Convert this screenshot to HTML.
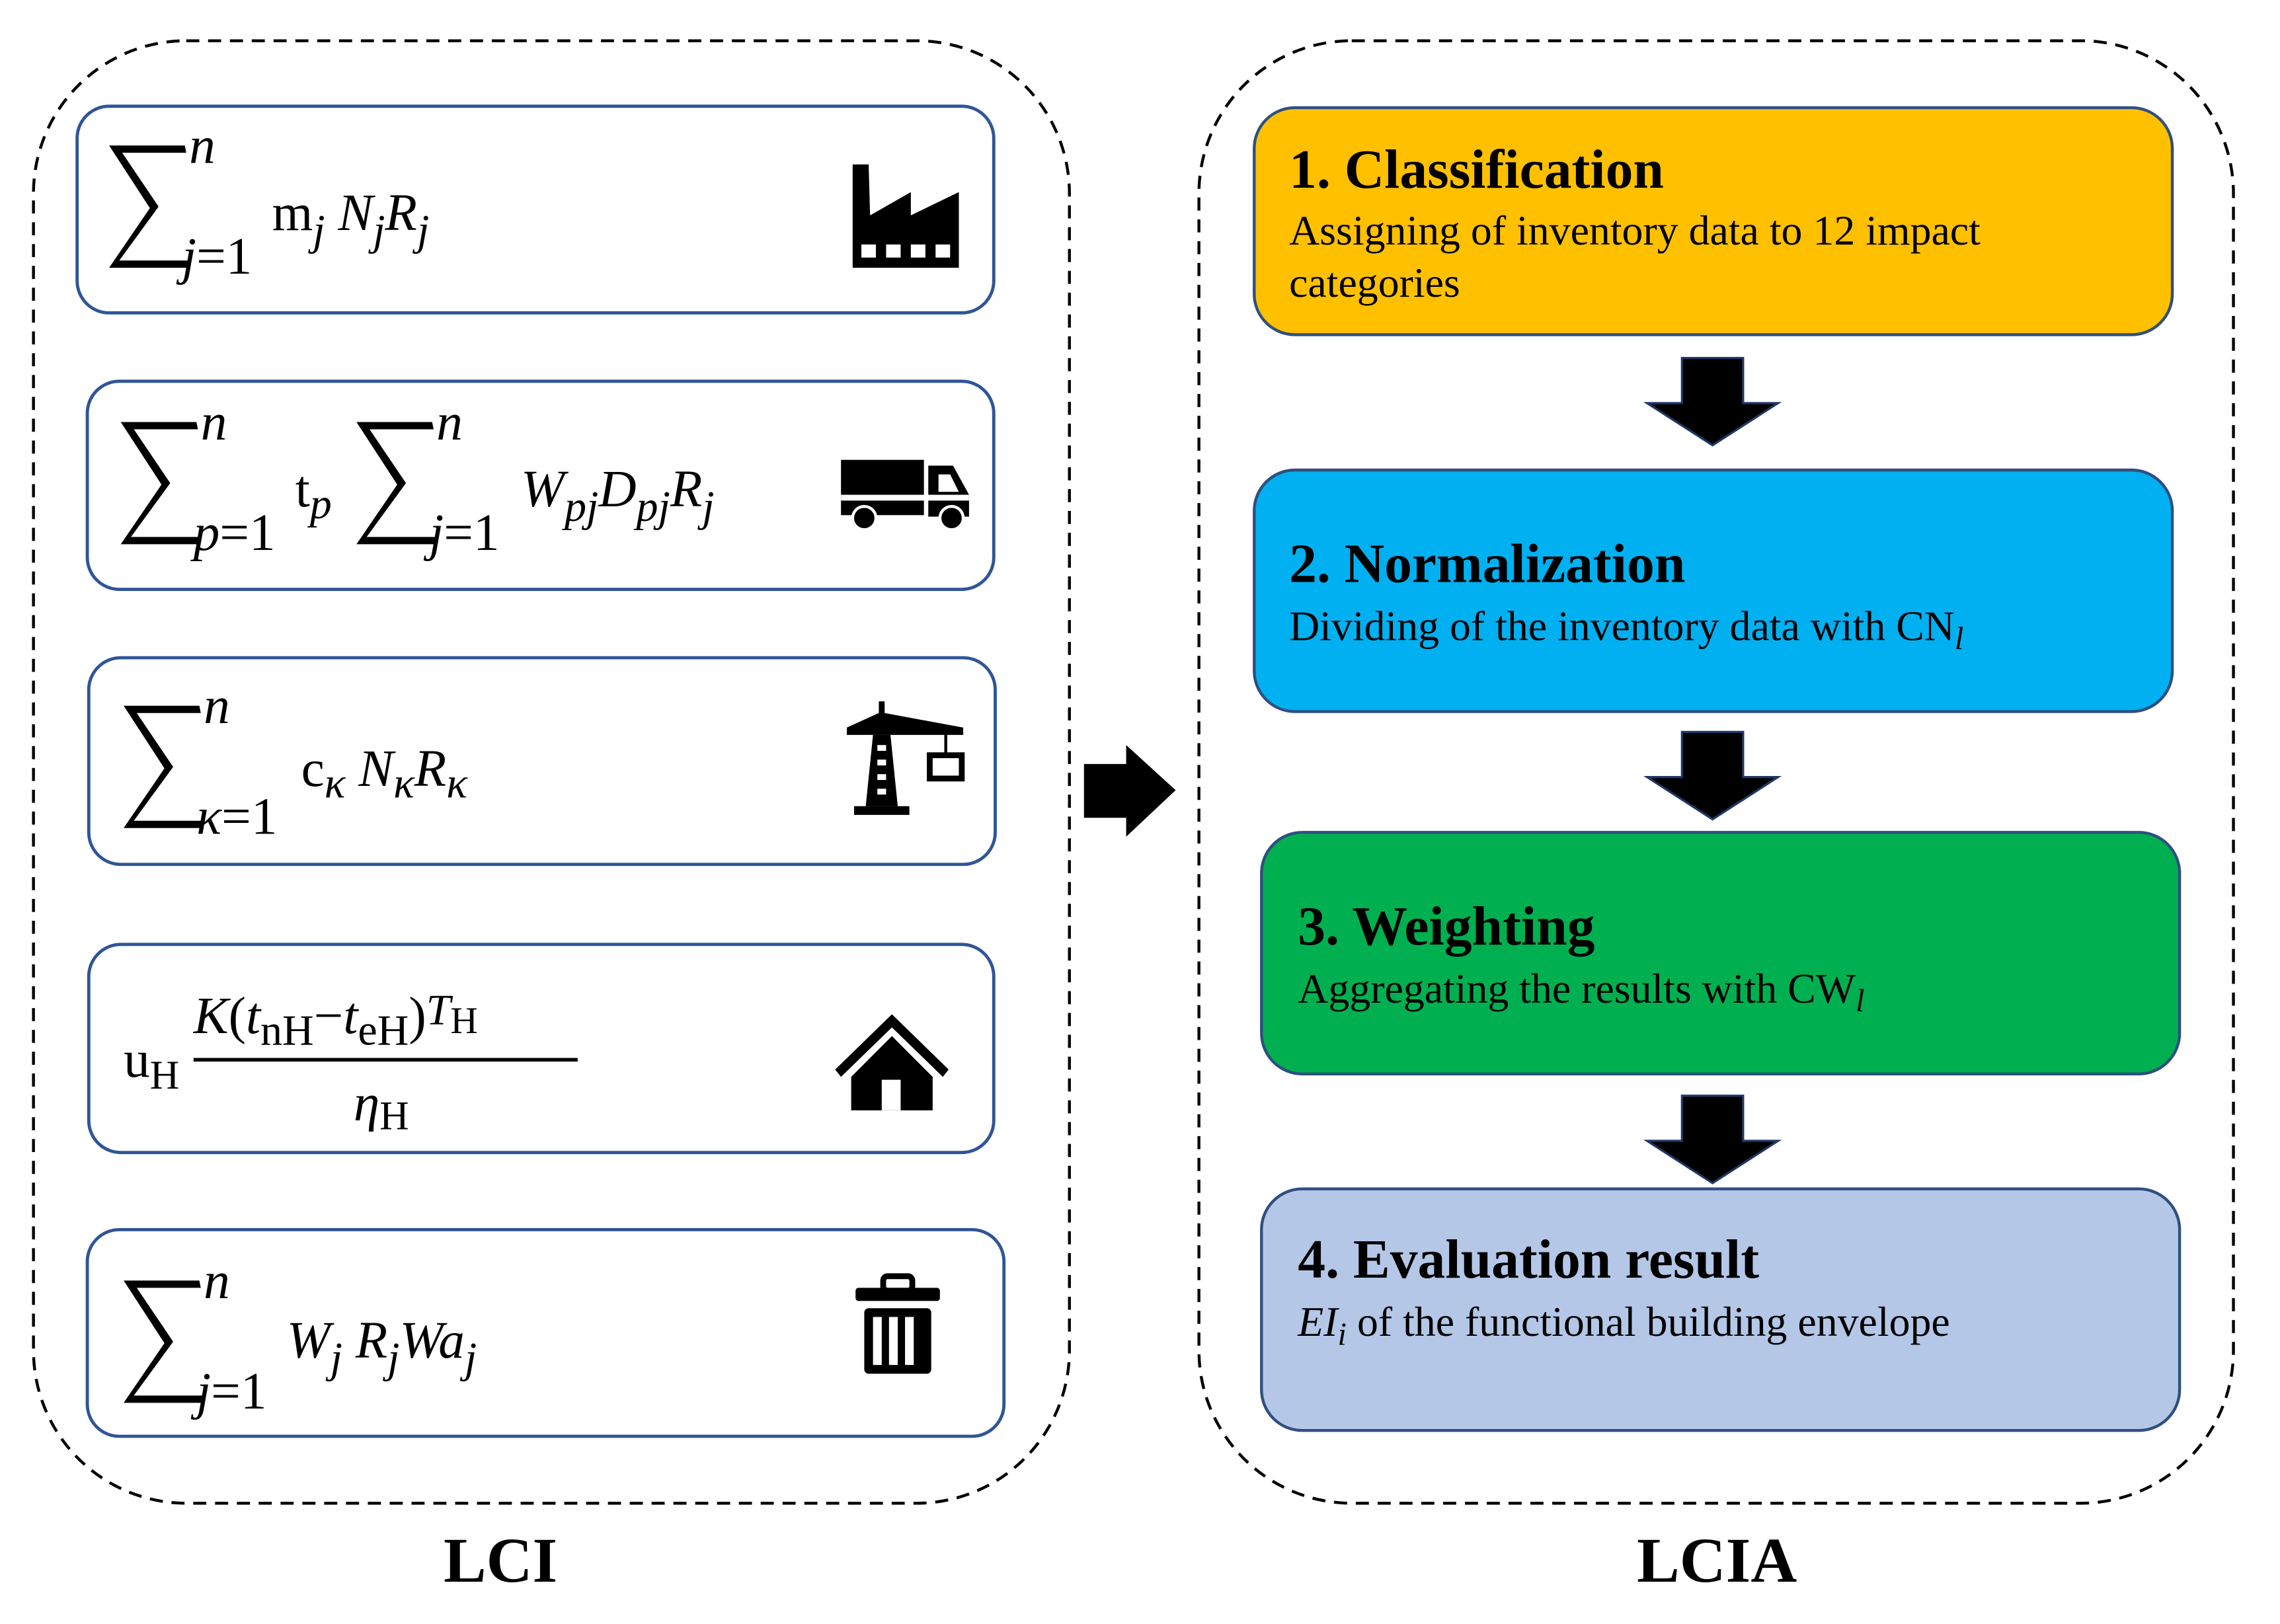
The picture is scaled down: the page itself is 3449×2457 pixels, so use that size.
<!DOCTYPE html>
<html><head><meta charset="utf-8"><style>
html,body{margin:0;padding:0;background:#fff;}
svg{display:block;}
text{font-family:"Liberation Serif",serif;}
.it{font-style:italic;}
</style></head><body>
<svg width="3449" height="2457" viewBox="0 0 1567 1116" preserveAspectRatio="none" xmlns="http://www.w3.org/2000/svg">
<defs>
<path id="sig" d="M0,0 L52,0 L53,5 L9,5 L34,42 L7,79 L54,79 L54,84 L0,84 L28,43 Z" fill="#000"/>
</defs>
<rect x="23" y="28" width="712" height="1005" rx="105" fill="none" stroke="#000" stroke-width="2" stroke-dasharray="9,6"/>
<rect x="824" y="28" width="711" height="1005" rx="105" fill="none" stroke="#000" stroke-width="2" stroke-dasharray="9,6"/>
<text x="344" y="1087" font-size="44" font-weight="bold" text-anchor="middle">LCI</text>
<text x="1180" y="1087" font-size="44" font-weight="bold" text-anchor="middle">LCIA</text>

<g fill="#fff" stroke="#2f5597" stroke-width="2.2">
<rect x="53" y="73" width="630" height="142" rx="22"/>
<rect x="60" y="262" width="623" height="143" rx="22"/>
<rect x="61" y="452" width="623" height="142" rx="22"/>
<rect x="61" y="649" width="622" height="143" rx="22"/>
<rect x="60" y="845" width="630" height="142" rx="22"/>
</g>

<use href="#sig" x="75" y="100"/>
<text x="130" y="112" font-size="36" class="it">n</text>
<text x="125" y="188" font-size="36"><tspan class="it">j</tspan>=1</text>
<text x="187" y="158" font-size="36">m<tspan class="it" font-size="30" dy="10">j</tspan><tspan class="it" dy="-10"> N</tspan><tspan class="it" font-size="30" dy="10">j</tspan><tspan class="it" dy="-10">R</tspan><tspan class="it" font-size="30" dy="10">j</tspan></text>

<use href="#sig" x="83" y="290"/>
<text x="138" y="302" font-size="36" class="it">n</text>
<text x="133" y="378" font-size="36"><tspan class="it">p</tspan>=1</text>
<text x="203" y="348" font-size="36">t<tspan class="it" font-size="30" dy="8">p</tspan></text>
<use href="#sig" x="245" y="290"/>
<text x="300" y="302" font-size="36" class="it">n</text>
<text x="295" y="378" font-size="36"><tspan class="it">j</tspan>=1</text>
<text x="358" y="348" font-size="36" class="it">W<tspan font-size="30" dy="10">pj</tspan><tspan dy="-10">D</tspan><tspan font-size="30" dy="10">pj</tspan><tspan dy="-10">R</tspan><tspan font-size="30" dy="10">j</tspan></text>

<use href="#sig" x="85" y="485"/>
<text x="140" y="497" font-size="36" class="it">n</text>
<text x="135" y="573" font-size="36"><tspan class="it">κ</tspan>=1</text>
<text x="207" y="540" font-size="36">c<tspan class="it" font-size="30" dy="8">κ</tspan><tspan class="it" dy="-8"> N</tspan><tspan class="it" font-size="30" dy="8">κ</tspan><tspan class="it" dy="-8">R</tspan><tspan class="it" font-size="30" dy="8">κ</tspan></text>

<text x="85" y="740" font-size="36">u<tspan font-size="28" dy="8">H</tspan></text>
<text x="133" y="710" font-size="36"><tspan class="it">K</tspan>(<tspan class="it">t</tspan><tspan font-size="30" dy="8">nH</tspan><tspan dy="-8">−</tspan><tspan class="it">t</tspan><tspan font-size="30" dy="8">eH</tspan><tspan dy="-8">)</tspan><tspan class="it" font-size="30" dy="-6">T</tspan><tspan font-size="26" dy="6">H</tspan></text>
<rect x="133" y="727" width="264" height="2.5" fill="#000"/>
<text x="243" y="770" font-size="36"><tspan class="it">η</tspan><tspan font-size="28" dy="6">H</tspan></text>

<use href="#sig" x="85" y="880"/>
<text x="140" y="892" font-size="36" class="it">n</text>
<text x="135" y="968" font-size="36"><tspan class="it">j</tspan>=1</text>
<text x="197" y="933" font-size="36" class="it">W<tspan font-size="30" dy="10">j</tspan><tspan dy="-10"> R</tspan><tspan font-size="30" dy="10">j</tspan><tspan dy="-10">Wa</tspan><tspan font-size="30" dy="10">j</tspan></text>

<path d="M586,113 L597,113 L598,148 L626,132 L626,148 L659,132 L659,184 L586,184 Z" fill="#000"/>
<rect x="592" y="168" width="10" height="9" fill="#fff"/><rect x="609" y="168" width="10" height="9" fill="#fff"/><rect x="626" y="168" width="10" height="9" fill="#fff"/><rect x="643" y="168" width="10" height="9" fill="#fff"/>
<rect x="578" y="316" width="57" height="38" fill="#000"/>
<path d="M638,320 L655,320 L666,340 L666,355 L638,355 Z" fill="#000"/>
<rect x="578" y="340" width="88" height="4" fill="#fff"/>
<path d="M645,326 L653,326 L659,338 L645,338 Z" fill="#fff"/>
<circle cx="594" cy="356" r="8" fill="#000" stroke="#fff" stroke-width="2"/>
<circle cx="654" cy="356" r="8" fill="#000" stroke="#fff" stroke-width="2"/>
<path d="M604,482 L608,482 L608,490 L662,500 L662,505 L582,505 L582,500 L604,490 Z" fill="#000"/>
<path d="M600,505 L612,505 L617,554 L595,554 Z" fill="#000"/>
<rect x="603" y="512" width="6" height="4" fill="#fff"/><rect x="603" y="522" width="6" height="4" fill="#fff"/><rect x="603" y="532" width="6" height="4" fill="#fff"/><rect x="603" y="542" width="6" height="4" fill="#fff"/>
<rect x="587" y="554" width="38" height="6" fill="#000"/>
<rect x="649" y="505" width="2" height="14" fill="#000"/>
<rect x="639" y="519" width="22" height="16" fill="#fff" stroke="#000" stroke-width="4"/>
<path d="M613,697 L652,735 L648,740 L613,706 L578,740 L574,735 Z" fill="#000"/>
<path d="M613,712 L641,740 L641,763 L585,763 L585,740 Z" fill="#000"/>
<rect x="606" y="742" width="13" height="21" fill="#fff"/>
<rect x="607" y="877" width="20" height="10" rx="3" fill="none" stroke="#000" stroke-width="4"/>
<rect x="588" y="885" width="58" height="9" rx="2" fill="#000"/>
<rect x="594" y="899" width="46" height="45" rx="3" fill="#000"/>
<rect x="600" y="905" width="6" height="33" fill="#fff"/><rect x="611" y="905" width="6" height="33" fill="#fff"/><rect x="622" y="905" width="6" height="33" fill="#fff"/>

<path d="M745,525 L774,525 L774,512 L808,543 L774,575 L774,562 L745,562 Z" fill="#000"/>

<rect x="862" y="74" width="631" height="156" rx="28" fill="#ffc000" stroke="#2f4f7f" stroke-width="2"/>
<rect x="862" y="323" width="631" height="166" rx="28" fill="#00b0f0" stroke="#2f4f7f" stroke-width="2"/>
<rect x="867" y="572" width="631" height="166" rx="28" fill="#00b050" stroke="#2f4f7f" stroke-width="2"/>
<rect x="867" y="817" width="631" height="166" rx="28" fill="#b4c7e7" stroke="#2f4f7f" stroke-width="2"/>

<text x="886" y="129" font-size="38" font-weight="bold">1. Classification</text>
<text x="886" y="168" font-size="29">Assigning of inventory data to 12 impact</text>
<text x="886" y="204" font-size="29">categories</text>
<text x="886" y="400" font-size="38" font-weight="bold">2. Normalization</text>
<text x="886" y="440" font-size="29">Dividing of the inventory data with CN<tspan class="it" font-size="22" dy="6">l</tspan></text>
<text x="892" y="649" font-size="38" font-weight="bold">3. Weighting</text>
<text x="892" y="689" font-size="29">Aggregating the results with CW<tspan class="it" font-size="22" dy="6">l</tspan></text>
<text x="892" y="878" font-size="38" font-weight="bold">4. Evaluation result</text>
<text x="892" y="918" font-size="29"><tspan class="it">EI</tspan><tspan class="it" font-size="22" dy="6">i</tspan><tspan dy="-6"> of the functional building envelope</tspan></text>

<g fill="#000" stroke="#1f3864" stroke-width="1.5">
<path d="M1156,246 L1198,246 L1198,277 L1222,277 L1177,306 L1132,277 L1156,277 Z"/>
<path d="M1156,503 L1198,503 L1198,534 L1222,534 L1177,563 L1132,534 L1156,534 Z"/>
<path d="M1156,753 L1198,753 L1198,784 L1222,784 L1177,813 L1132,784 L1156,784 Z"/>
</g>
</svg>
</body></html>
